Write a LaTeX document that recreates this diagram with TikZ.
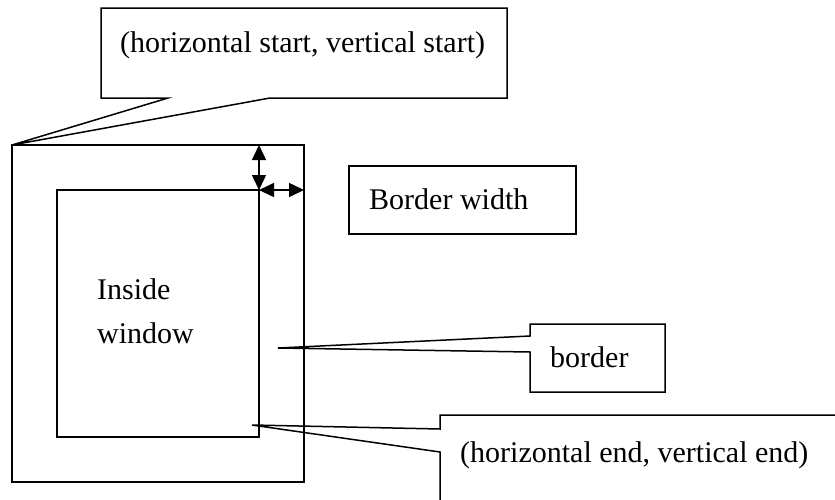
\documentclass[tikz,border=0pt]{standalone}
\usepackage{fontspec}
\setmainfont{Liberation Serif}
\usetikzlibrary{calc, arrows.meta}
\tikzstyle{frame} = [rectangle, draw=black, line width=1.5pt, inner sep=0pt, outer sep=0pt]
\tikzstyle{callbox} = [rectangle, inner sep=0pt, outer sep=0pt]
\tikzstyle{txt} = [anchor=base west, inner sep=0pt, font=\fontsize{30}{44}\selectfont]
\tikzstyle{outline} = [draw=black, line width=1.5pt, line join=miter]
\tikzstyle{arrow} = [line width=1.5pt, {Triangle[length=15pt,width=14pt]}-{Triangle[length=15pt,width=14pt]}]

\begin{document}
\begin{tikzpicture}[x=1pt, y=-1pt]
          \useasboundingbox (0,0) rectangle (835,499);
          % window and inside window
          \node (outer) [frame, minimum width=292pt, minimum height=337pt] at (158,313.5) {};
          \node (inner) [frame, minimum width=202pt, minimum height=247pt] at (158,313.5) {};
          \node (inside) [txt, align=left] at (97,343) {Inside\\window};
          % border width
          \draw [arrow] (inner.north east |- outer.north) -- (inner.north east);
          \draw [arrow] (inner.north east) -- (outer.east |- inner.north east);
          \node (widthbox) [frame, minimum width=227pt, minimum height=68pt] at (462.5,200) {};
          \node (widthtext) [txt] at ($(widthbox.north west)+(20,43)$) {Border width};
          % callouts
          \node (startbox) [callbox, minimum width=406pt, minimum height=90pt] at (304,53) {};
          \node (starttext) [txt] at ($(startbox.north west)+(19,44)$) {(horizontal start, vertical start)};
          \draw [outline] (startbox.south west) -- (startbox.north west) -- (startbox.north east)
            -- (startbox.south east) -- ($(startbox.south west)+(169,0)$) -- (outer.north west)
            -- ($(startbox.south west)+(67,0)$) -- cycle;
          \node (borderbox) [callbox, minimum width=135pt, minimum height=68pt] at (597.5,358) {};
          \node (bordertext) [txt] at ($(borderbox.north west)+(20,43)$) {border};
          \coordinate (bordertip) at (278,348);
          \draw [outline] ($(borderbox.north west)+(0,12)$) -- (borderbox.north west) -- (borderbox.north east)
            -- (borderbox.south east) -- (borderbox.south west) -- ($(borderbox.north west)+(0,28)$)
            -- (bordertip) -- cycle;
          \node (endbox) [callbox, minimum width=420pt, minimum height=110pt] at (650,470) {};
          \node (endtext) [txt] at ($(endbox.north west)+(20,47)$) {(horizontal end, vertical end)};
          \coordinate (endtip) at (252,425);
          \draw [outline] ($(endbox.north west)+(0,14)$) -- (endbox.north west) -- (endbox.north east)
            -- (endbox.south east) -- (endbox.south west) -- ($(endbox.north west)+(0,37)$)
            -- (endtip) -- cycle;
        \end{tikzpicture}
\end{document}
